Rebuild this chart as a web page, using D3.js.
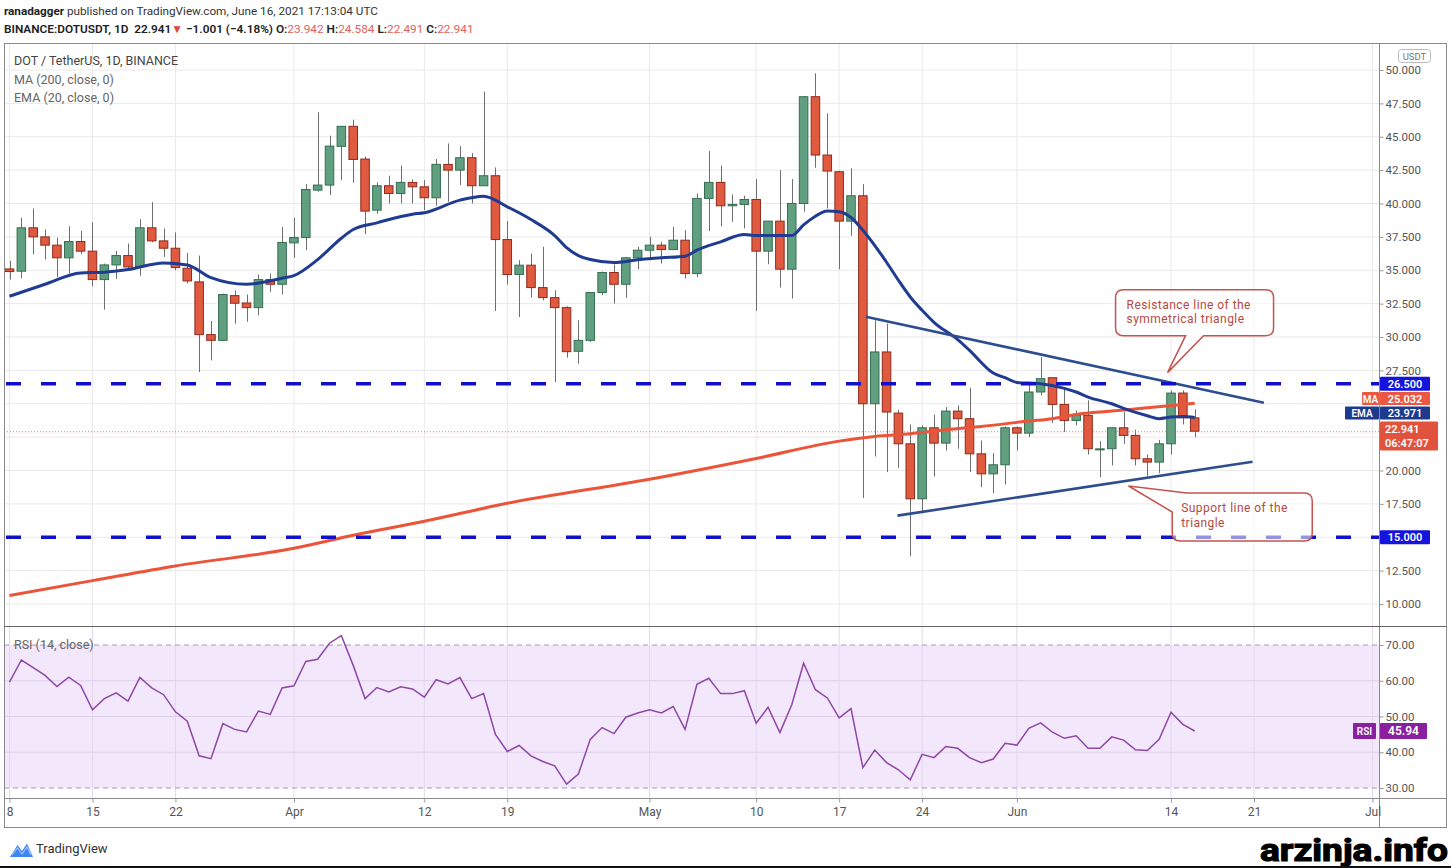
<!DOCTYPE html>
<html><head><meta charset="utf-8">
<script src="https://cdn.jsdelivr.net/npm/d3@7"></script>
<style>body{margin:0;background:#fff}svg{display:block}text{font-family:Roboto,"Noto Sans",sans-serif}</style>
</head><body>
<svg id="c" width="1451" height="868"></svg>
<script>
// ---------- DATA ----------
const dates = [
"2021-03-08","2021-03-09","2021-03-10","2021-03-11","2021-03-12","2021-03-13","2021-03-14","2021-03-15","2021-03-16","2021-03-17",
"2021-03-18","2021-03-19","2021-03-20","2021-03-21","2021-03-22","2021-03-23","2021-03-24","2021-03-25","2021-03-26","2021-03-27",
"2021-03-28","2021-03-29","2021-03-30","2021-03-31","2021-04-01","2021-04-02","2021-04-03","2021-04-04","2021-04-05","2021-04-06",
"2021-04-07","2021-04-08","2021-04-09","2021-04-10","2021-04-11","2021-04-12","2021-04-13","2021-04-14","2021-04-15","2021-04-16",
"2021-04-17","2021-04-18","2021-04-19","2021-04-20","2021-04-21","2021-04-22","2021-04-23","2021-04-24","2021-04-25","2021-04-26",
"2021-04-27","2021-04-28","2021-04-29","2021-04-30","2021-05-01","2021-05-02","2021-05-03","2021-05-04","2021-05-05","2021-05-06",
"2021-05-07","2021-05-08","2021-05-09","2021-05-10","2021-05-11","2021-05-12","2021-05-13","2021-05-14","2021-05-15","2021-05-16",
"2021-05-17","2021-05-18","2021-05-19","2021-05-20","2021-05-21","2021-05-22","2021-05-23","2021-05-24","2021-05-25","2021-05-26",
"2021-05-27","2021-05-28","2021-05-29","2021-05-30","2021-05-31","2021-06-01","2021-06-02","2021-06-03","2021-06-04","2021-06-05",
"2021-06-06","2021-06-07","2021-06-08","2021-06-09","2021-06-10","2021-06-11","2021-06-12","2021-06-13","2021-06-14","2021-06-15",
"2021-06-16"];
const open = [
35.1,34.93,38.18,37.5,36.88,35.93,37.15,36.43,34.3,35.4,
36.1,35.25,38.18,37.2,36.65,35.15,34.13,30.18,29.75,33.1,
32.55,32.2,34.3,33.95,37.05,37.45,41.0,41.38,44.28,45.78,
43.33,39.5,41.33,40.75,41.58,41.25,40.43,42.93,42.5,43.43,
41.33,42.08,37.3,34.68,35.38,33.7,32.95,32.2,28.93,29.75,
33.33,34.83,33.95,35.93,36.5,36.88,36.55,37.25,34.75,40.38,
41.58,39.83,39.93,40.3,36.43,38.68,35.08,40.0,48.0,43.63,
42.38,38.68,40.58,25.0,28.88,24.3,22.0,17.88,23.2,22.05,
24.45,23.88,21.25,19.75,20.43,23.2,22.8,25.88,26.95,24.95,
23.75,24.13,21.58,21.63,23.2,22.63,20.88,20.63,22.0,25.8,
23.942];
const high = [
35.7,38.93,39.63,38.05,37.45,38.3,37.95,38.6,35.5,36.45,
37.0,38.83,40.1,38.13,37.83,36.3,36.1,31.2,33.25,33.5,
33.18,34.68,34.75,38.25,38.93,41.45,46.83,45.08,45.8,46.28,
43.53,41.58,42.08,42.83,41.8,41.75,43.33,44.5,44.3,43.78,
48.38,42.7,38.68,35.75,36.25,36.75,33.5,32.3,31.25,33.35,
34.9,35.43,36.0,36.75,37.5,37.13,38.25,38.0,40.75,43.93,
42.83,40.68,40.58,41.83,38.7,42.5,41.83,48.05,49.75,46.75,
42.45,42.63,41.45,31.25,31.0,24.55,23.45,23.38,24.18,24.75,
24.88,26.2,22.25,21.3,23.3,23.3,26.5,28.5,26.95,26.2,
24.5,25.25,22.2,23.25,24.38,23.05,21.2,22.3,26.0,26.0,
24.584];
const low = [
34.3,34.38,36.2,35.8,34.5,34.75,36.2,33.8,32.05,34.35,
34.95,34.58,37.1,36.0,35.0,34.0,27.38,28.25,29.7,31.0,
31.15,31.63,33.38,33.18,35.93,36.5,40.88,40.63,41.75,41.55,
37.7,39.23,40.0,40.0,40.0,39.5,39.83,40.13,41.38,40.0,
41.3,31.95,33.93,31.5,32.95,32.75,26.63,28.45,28.0,29.63,
33.13,32.5,32.93,35.08,35.75,35.5,36.5,34.38,34.5,37.93,
38.3,38.63,38.13,31.95,35.45,33.7,32.88,39.38,42.68,39.63,
35.08,37.58,17.95,21.05,19.88,20.2,13.58,16.8,19.55,21.5,
21.63,19.88,18.75,18.3,18.95,21.5,22.5,25.63,23.55,22.88,
23.38,21.2,19.5,20.38,22.0,20.38,19.55,19.8,21.2,23.45,
22.491];
const close = [
34.9,38.18,37.5,36.88,35.93,37.15,36.43,34.3,35.4,36.1,
35.25,38.18,37.2,36.65,35.2,34.2,30.18,29.75,33.18,32.53,
32.2,34.3,33.95,37.08,37.45,41.05,41.38,44.3,45.78,43.3,
39.43,41.33,40.75,41.58,41.25,40.43,42.93,42.5,43.43,41.33,
42.08,37.3,34.68,35.38,33.7,32.95,32.2,28.9,29.75,33.33,
34.83,33.95,35.93,36.5,36.88,36.55,37.25,34.75,40.38,41.58,
39.83,39.93,40.3,36.43,38.68,35.08,40.0,48.0,43.63,42.43,
38.68,40.58,25.0,28.88,24.38,22.0,17.88,23.2,22.05,24.45,
23.88,21.25,19.75,20.43,23.2,22.8,25.88,26.88,24.95,23.75,
24.13,21.63,21.62,23.2,22.63,20.88,20.63,22.0,25.8,23.942,
22.941];
const rsiValues = [
59.6,65.8,63.7,61.5,58.4,61.0,58.7,51.9,55.0,56.6,
54.3,60.9,58.0,56.1,51.3,48.7,39.0,38.2,48.0,46.4,
45.7,51.5,50.6,58.0,58.6,65.4,66.0,70.5,72.6,64.3,
55.0,58.1,56.9,58.3,57.7,55.4,60.3,59.1,60.9,55.0,
56.4,45.0,40.2,41.9,39.0,37.4,36.2,31.1,33.9,43.6,
46.9,45.2,49.8,51.0,51.9,51.0,52.8,46.4,59.0,60.7,
56.4,56.4,57.2,48.1,52.6,45.5,53.3,64.9,57.5,55.2,
49.6,52.2,35.7,40.6,37.1,35.1,32.3,39.4,38.5,41.6,
41.1,38.5,37.1,38.1,42.5,42.0,46.7,48.2,45.6,43.9,
44.6,41.1,41.1,44.3,43.4,40.7,40.5,43.6,51.2,47.8,
45.94];
const emaDates = ["2021-03-08","2021-03-11","2021-03-14","2021-03-16","2021-03-18","2021-03-21","2021-03-23","2021-03-25","2021-03-28","2021-03-31",
"2021-04-01","2021-04-03","2021-04-05","2021-04-06","2021-04-08","2021-04-11","2021-04-12","2021-04-15","2021-04-17","2021-04-19",
"2021-04-21","2021-04-23","2021-04-24","2021-04-25","2021-04-26","2021-04-28","2021-04-30","2021-05-02","2021-05-04","2021-05-05",
"2021-05-07","2021-05-09","2021-05-10","2021-05-13","2021-05-14","2021-05-15","2021-05-16","2021-05-17","2021-05-18","2021-05-19",
"2021-05-21","2021-05-22","2021-05-23","2021-05-24","2021-05-25","2021-05-27","2021-05-28","2021-05-30","2021-05-31","2021-06-01",
"2021-06-03","2021-06-05","2021-06-06","2021-06-07","2021-06-09","2021-06-10","2021-06-12","2021-06-13","2021-06-14","2021-06-15","2021-06-16"];
const emaValues = [33.05,33.95,34.8,34.85,35.05,35.55,35.4,34.45,33.95,34.4,
34.6,35.8,37.4,38.05,38.55,39.2,39.3,40.25,40.55,39.75,
38.8,37.6,36.7,36.1,35.8,35.58,35.78,35.93,36.05,36.5,
37.13,37.68,37.6,37.6,38.4,39.05,39.43,39.38,38.95,38.0,
35.6,34.25,33.0,32.0,31.1,29.8,29.0,27.3,26.95,26.6,
26.5,26.15,25.88,25.5,25.0,24.65,24.1,23.88,24.0,24.05,23.971];
const maDates = ["2021-03-08","2021-03-15","2021-03-22","2021-04-01","2021-04-06","2021-04-12","2021-04-19","2021-05-01","2021-05-10","2021-05-17",
"2021-05-20","2021-05-23","2021-05-26","2021-05-29","2021-06-02","2021-06-04","2021-06-06","2021-06-09","2021-06-12","2021-06-16"];
const maValues = [10.64,11.75,12.85,14.17,15.15,16.2,17.54,19.34,20.9,22.2,
22.55,22.75,23.05,23.3,23.7,23.88,24.2,24.45,24.7,25.032];
const priceTicks = [10,12.5,15,17.5,20,22.5,25,27.5,30,32.5,35,37.5,40,42.5,45,47.5,50];
const rsiTicks = [30,40,50,60,70];
const timeTicks = ["2021-03-08","2021-03-15","2021-03-22","2021-04-01","2021-04-12","2021-04-19","2021-05-01","2021-05-10","2021-05-17","2021-05-24","2021-06-01","2021-06-14","2021-06-21","2021-07-01"];
const timeTickLabels = ["8","15","22","Apr","12","19","May","10","17","24","Jun","14","21","Jul"];
const levels = [26.5, 15.0];
const resistanceLine = [["2021-05-19T06:00",31.52],["2021-06-21T20:00",25.08]];
const supportLine = [["2021-05-21T22:00",16.62],["2021-06-20T21:00",20.66]];
const lastPrice = 22.941, lastMA = 25.032, lastEMA = 23.971, lastRSI = 45.94;
const callout1 = {at:["2021-06-13T17:00",27.33], lines:["Resistance line of the","symmetrical triangle"]};
const callout2 = {at:["2021-06-10T10:00",18.84], lines:["Support line of the","triangle"]};

// ---------- SETUP ----------
const svg = d3.select("#c");
const pd = d3.utcParse("%Y-%m-%d"), pt = d3.utcParse("%Y-%m-%dT%H:%M");
const L=4, R=1379, T=43, PB=626, RB=798, BB=827, FR=1446;
const x = d3.scaleUtc().domain([pd("2021-03-08"), pd("2021-07-01")]).range([9.5, 1372.5]);
const y = d3.scaleLinear().domain([10,50]).range([604,70]);
const yr = d3.scaleLinear().domain([30,70]).range([788,645]);
const D = dates.map(pd);
const dayW = x(D[1]) - x(D[0]);
const bw = dayW*0.72;

const defs = svg.append("defs");
defs.append("clipPath").attr("id","cm").append("rect").attr("x",L+1).attr("y",T+1).attr("width",R-L-1).attr("height",PB-T-1);
defs.append("clipPath").attr("id","cr").append("rect").attr("x",L+1).attr("y",PB+1).attr("width",R-L-1).attr("height",RB-PB-1);

// header: pieces laid out one after another, font scaled to fit the measured width
function headerLine(yy, pieces, target, base){
  const g = svg.append("g");
  const draw = fs => {
    g.selectAll("*").remove();
    let cx = 4;
    pieces.forEach(p=>{
      const t = g.append("text").attr("x",cx).attr("y",yy).attr("font-size",fs)
        .attr("font-weight",p.w||400).attr("fill",p.c||"#333").text(p.t);
      cx += t.node().getComputedTextLength();
    });
    return cx-4;
  };
  const w = draw(base);
  draw(base*target/w);
}
const sp = "\u00A0";
headerLine(15,[{t:"ranadagger",w:700,c:"#222"},{t:sp+"published on TradingView.com, June 16, 2021 17:13:04 UTC",c:"#333"}],374,12.5);
headerLine(33,[
  {t:"BINANCE:DOTUSDT, 1D"+sp+sp+"22.941",w:600,c:"#222"},
  {t:"▼",c:"#e0443a"},
  {t:sp+"−1.001 (−4.18%) O:",w:600,c:"#222"},
  {t:"23.942",c:"#e0625a"},
  {t:sp+"H:",w:600,c:"#222"},
  {t:"24.584",c:"#e0625a"},
  {t:sp+"L:",w:600,c:"#222"},
  {t:"22.491",c:"#e0625a"},
  {t:sp+"C:",w:600,c:"#222"},
  {t:"22.941",c:"#e0625a"}],470,12.5);

// RSI background band
svg.append("rect").attr("x",L).attr("y",yr(70)).attr("width",R-L).attr("height",yr(30)-yr(70)).attr("fill","#f3e7fc");

// gridlines
const gl = svg.append("g");
gl.selectAll(".vg").data(timeTicks.map(pd)).join("line").attr("class","vg")
  .attr("x1",d=>x(d)).attr("x2",d=>x(d)).attr("y1",T).attr("y2",PB).attr("stroke","#e9e9e9");
gl.selectAll(".vr").data(timeTicks.map(pd)).join("line").attr("class","vr")
  .attr("x1",d=>x(d)).attr("x2",d=>x(d)).attr("y1",PB).attr("y2",RB).attr("stroke","#e2d8ea");
gl.selectAll(".hg").data(priceTicks).join("line").attr("class","hg")
  .attr("x1",L).attr("x2",R).attr("y1",d=>y(d)).attr("y2",d=>y(d)).attr("stroke","#e9e9e9");
gl.selectAll(".hr").data([40,50,60]).join("line").attr("class","hr")
  .attr("x1",L).attr("x2",R).attr("y1",d=>yr(d)).attr("y2",d=>yr(d)).attr("stroke","#ddcfe8");
gl.selectAll(".hd").data([30,70]).join("line").attr("class","hd")
  .attr("x1",L).attr("x2",R).attr("y1",d=>yr(d)).attr("y2",d=>yr(d)).attr("stroke","#a898b8").attr("stroke-dasharray","5,4");

// main pane
const gm = svg.append("g").attr("clip-path","url(#cm)");
const idx = d3.range(D.length);
gm.selectAll(".wick").data(idx).join("line").attr("class","wick")
  .attr("x1",i=>Math.round(x(D[i]))+0.5).attr("x2",i=>Math.round(x(D[i]))+0.5)
  .attr("y1",i=>y(high[i])).attr("y2",i=>y(low[i])).attr("stroke","#6e6e6e").attr("stroke-width",1);
gm.selectAll(".body").data(idx).join("rect").attr("class","body")
  .attr("x",i=>x(D[i])-bw/2).attr("width",bw)
  .attr("y",i=>y(Math.max(open[i],close[i])))
  .attr("height",i=>Math.max(1,Math.abs(y(open[i])-y(close[i]))))
  .attr("fill",i=>close[i]>=open[i]?"#60a081":"#e05a40")
  .attr("stroke",i=>close[i]>=open[i]?"#356e52":"#8e2b1c").attr("stroke-width",1);

// MA and EMA
gm.append("path").datum(maDates.map((d,i)=>[pd(d),maValues[i]]))
  .attr("d",d3.line().x(d=>x(d[0])).y(d=>y(d[1])).curve(d3.curveMonotoneX))
  .attr("fill","none").attr("stroke","#ec5439").attr("stroke-width",3);
gm.append("path").datum(emaDates.map((d,i)=>[pd(d),emaValues[i]]))
  .attr("d",d3.line().x(d=>x(d[0])).y(d=>y(d[1])).curve(d3.curveMonotoneX))
  .attr("fill","none").attr("stroke","#1f3c92").attr("stroke-width",3);

// triangle lines
[resistanceLine, supportLine].forEach(l=>{
  gm.append("line").attr("x1",x(pt(l[0][0]))).attr("y1",y(l[0][1]))
    .attr("x2",x(pt(l[1][0]))).attr("y2",y(l[1][1]))
    .attr("stroke","#2d4d8e").attr("stroke-width",2.6);
});

// horizontal levels
gm.selectAll(".lvl").data(levels).join("line").attr("class","lvl")
  .attr("x1",L+2).attr("x2",R).attr("y1",d=>y(d)).attr("y2",d=>y(d))
  .attr("stroke","#1010c8").attr("stroke-width",3.5).attr("stroke-dasharray","15,20");

// last price dotted
gm.append("line").attr("x1",L).attr("x2",R).attr("y1",y(lastPrice)+0.5).attr("y2",y(lastPrice)+0.5)
  .attr("stroke","#e3584a").attr("stroke-width",1).attr("stroke-dasharray","1,2").attr("opacity",0.8);

// callouts
function calloutText(lines, x0, y0){
  lines.forEach((s,i)=>gm.append("text").attr("x",x0).attr("y",y0+i*14.2)
    .attr("font-size",12).attr("letter-spacing",0.45).attr("fill","#b54a42").text(s));
}
{
  const tx = x(pt(callout1.at[0])), ty = y(callout1.at[1]);
  const l=tx-52, r=tx+106, t=ty-83, b=ty-37, rad=8;
  const p = `M${l+rad},${t}H${r-rad}Q${r},${t} ${r},${t+rad}V${b-rad}Q${r},${b} ${r-rad},${b}H${tx+36}L${tx},${ty}L${tx+18},${b}H${l+rad}Q${l},${b} ${l},${b-rad}V${t+rad}Q${l},${t} ${l+rad},${t}Z`;
  gm.append("path").attr("d",p).attr("fill","rgba(255,255,255,0.6)").attr("stroke","#c4544e").attr("stroke-width",1.5);
  calloutText(callout1.lines, l+11, t+19.5);
}
{
  const tx = x(pt(callout2.at[0])), ty = y(callout2.at[1]);
  const l=tx+43.7, r=tx+183.7, t=ty+7, b=ty+55, rad=8;
  const p = `M${tx+58},${t}H${r-rad}Q${r},${t} ${r},${t+rad}V${b-rad}Q${r},${b} ${r-rad},${b}H${l+rad}Q${l},${b} ${l},${b-rad}V${t+19}L${tx},${ty}Z`;
  gm.append("path").attr("d",p).attr("fill","rgba(255,255,255,0.55)").attr("stroke","#c4544e").attr("stroke-width",1.5);
  calloutText(callout2.lines, l+9, t+19.5);
}

// legend
svg.append("text").attr("x",14).attr("y",65).attr("font-size",12.5).attr("fill","#444").text("DOT / TetherUS, 1D, BINANCE");
svg.append("text").attr("x",14).attr("y",84).attr("font-size",12.5).attr("fill","#666").text("MA (200, close, 0)");
svg.append("text").attr("x",14).attr("y",102).attr("font-size",12.5).attr("fill","#666").text("EMA (20, close, 0)");

// RSI line
const gr = svg.append("g").attr("clip-path","url(#cr)");
gr.append("path").datum(idx)
  .attr("d",d3.line().x(i=>x(D[i])).y(i=>yr(rsiValues[i])))
  .attr("fill","none").attr("stroke","#8e47a6").attr("stroke-width",1.5);
svg.append("text").attr("x",14).attr("y",649).attr("font-size",12.5).attr("fill","#666").text("RSI (14, close)");

// frame
const fr = svg.append("g").attr("fill","none").attr("stroke","#8a8a8a");
fr.append("rect").attr("x",L+0.5).attr("y",T+0.5).attr("width",FR-L).attr("height",BB-T);
fr.append("line").attr("x1",R+0.5).attr("x2",R+0.5).attr("y1",T).attr("y2",BB);
fr.append("line").attr("x1",L).attr("x2",FR).attr("y1",PB+0.5).attr("y2",PB+0.5).attr("stroke","#666");
fr.append("line").attr("x1",L).attr("x2",FR).attr("y1",RB+0.5).attr("y2",RB+0.5);

// axes (price labels hidden behind the value tags are left out, as on the reference)
const tagPrices = [levels[1], lastMA, lastPrice];
const f3 = d3.format(".3f");
const axP = svg.append("g").attr("transform",`translate(${R+0.5},0)`)
  .call(d3.axisRight(y).tickValues(priceTicks)
    .tickFormat(d=>tagPrices.some(v=>Math.abs(y(v)-y(d))<9)?"":f3(d)).tickSize(4).tickPadding(2));
const axR = svg.append("g").attr("transform",`translate(${R+0.5},0)`)
  .call(d3.axisRight(yr).tickValues(rsiTicks).tickFormat(d3.format(".2f")).tickSize(4).tickPadding(2));
const axX = svg.append("g").attr("transform",`translate(0,${RB+0.5})`)
  .call(d3.axisBottom(x).tickValues(timeTicks.map(pd)).tickFormat((d,i)=>timeTickLabels[i]).tickSize(4).tickPadding(5));
[axP,axR,axX].forEach(a=>{
  a.select(".domain").remove();
  a.selectAll("line").attr("stroke","#999");
  a.selectAll("text").attr("fill","#555").attr("font-size",11.5).attr("font-family","Roboto,sans-serif");
});
axX.selectAll("text").attr("font-size",12);

// USDT box
svg.append("rect").attr("x",1398.5).attr("y",49.5).attr("width",32).attr("height",13).attr("rx",3)
  .attr("fill","#fff").attr("stroke","#bbb");
svg.append("text").attr("x",1414.5).attr("y",59.5).attr("text-anchor","middle").attr("font-size",9.5).attr("fill","#777").text("USDT");

// value tags on the axis
function tag(x0,w,cy,h,fill,txt,fs){
  svg.append("rect").attr("x",x0).attr("y",cy-h/2).attr("width",w).attr("height",h).attr("fill",fill).attr("rx",1);
  svg.append("text").attr("x",x0+w/2).attr("y",cy+4).attr("text-anchor","middle").attr("font-size",fs||11)
    .attr("font-weight",600).attr("fill","#fff").text(txt);
}
levels.forEach(v=>tag(R+1,50,y(v),14,"#1414dc",f3(v)));
tag(1362,17,398.5,13,"#ec5742","MA",10);
tag(R+1,50,398.5,13,"#ec5742",f3(lastMA));
tag(1345,34,413,13,"#1d3a8f","EMA",10);
tag(R+1,50,413,13,"#1d3a8f",f3(lastEMA));
svg.append("rect").attr("x",R+1).attr("y",421.5).attr("width",58).attr("height",29).attr("fill","#e2533e").attr("rx",1);
svg.append("text").attr("x",R+6).attr("y",433).attr("font-size",11).attr("font-weight",600).attr("fill","#fff").text(f3(lastPrice));
svg.append("text").attr("x",R+6).attr("y",447).attr("font-size",11).attr("font-weight",600).attr("fill","#fff").text("06:47:07");
tag(1353,23,yr(lastRSI),16,"#8a1f9f","RSI",10);
tag(R+1,47,yr(lastRSI),16,"#8a1f9f",d3.format(".2f")(lastRSI),12);

// footer
svg.append("path").attr("d","M10,857 L17.5,845 L22,851 L27,843.5 L33,857 Z").attr("fill","#3d86f0");
svg.append("path").attr("d","M12,855 L17.5,848 L22,854 L27,847 L31,855").attr("fill","none").attr("stroke","#9cc4ff").attr("stroke-width",1.2);
svg.append("text").attr("x",36).attr("y",853).attr("font-size",13).attr("fill","#333").text("TradingView");
svg.append("text").attr("x",1260).attr("y",860.5).attr("font-size",32).attr("font-weight","bold")
  .attr("font-family","'Liberation Sans',Arial,sans-serif").attr("fill","#000").attr("stroke","#000").attr("stroke-width",1.2)
  .attr("textLength",188).attr("lengthAdjust","spacingAndGlyphs").text("arzinja.info");
svg.append("rect").attr("x",0).attr("y",866).attr("width",1451).attr("height",2).attr("fill","#111");
</script>
</body></html>
